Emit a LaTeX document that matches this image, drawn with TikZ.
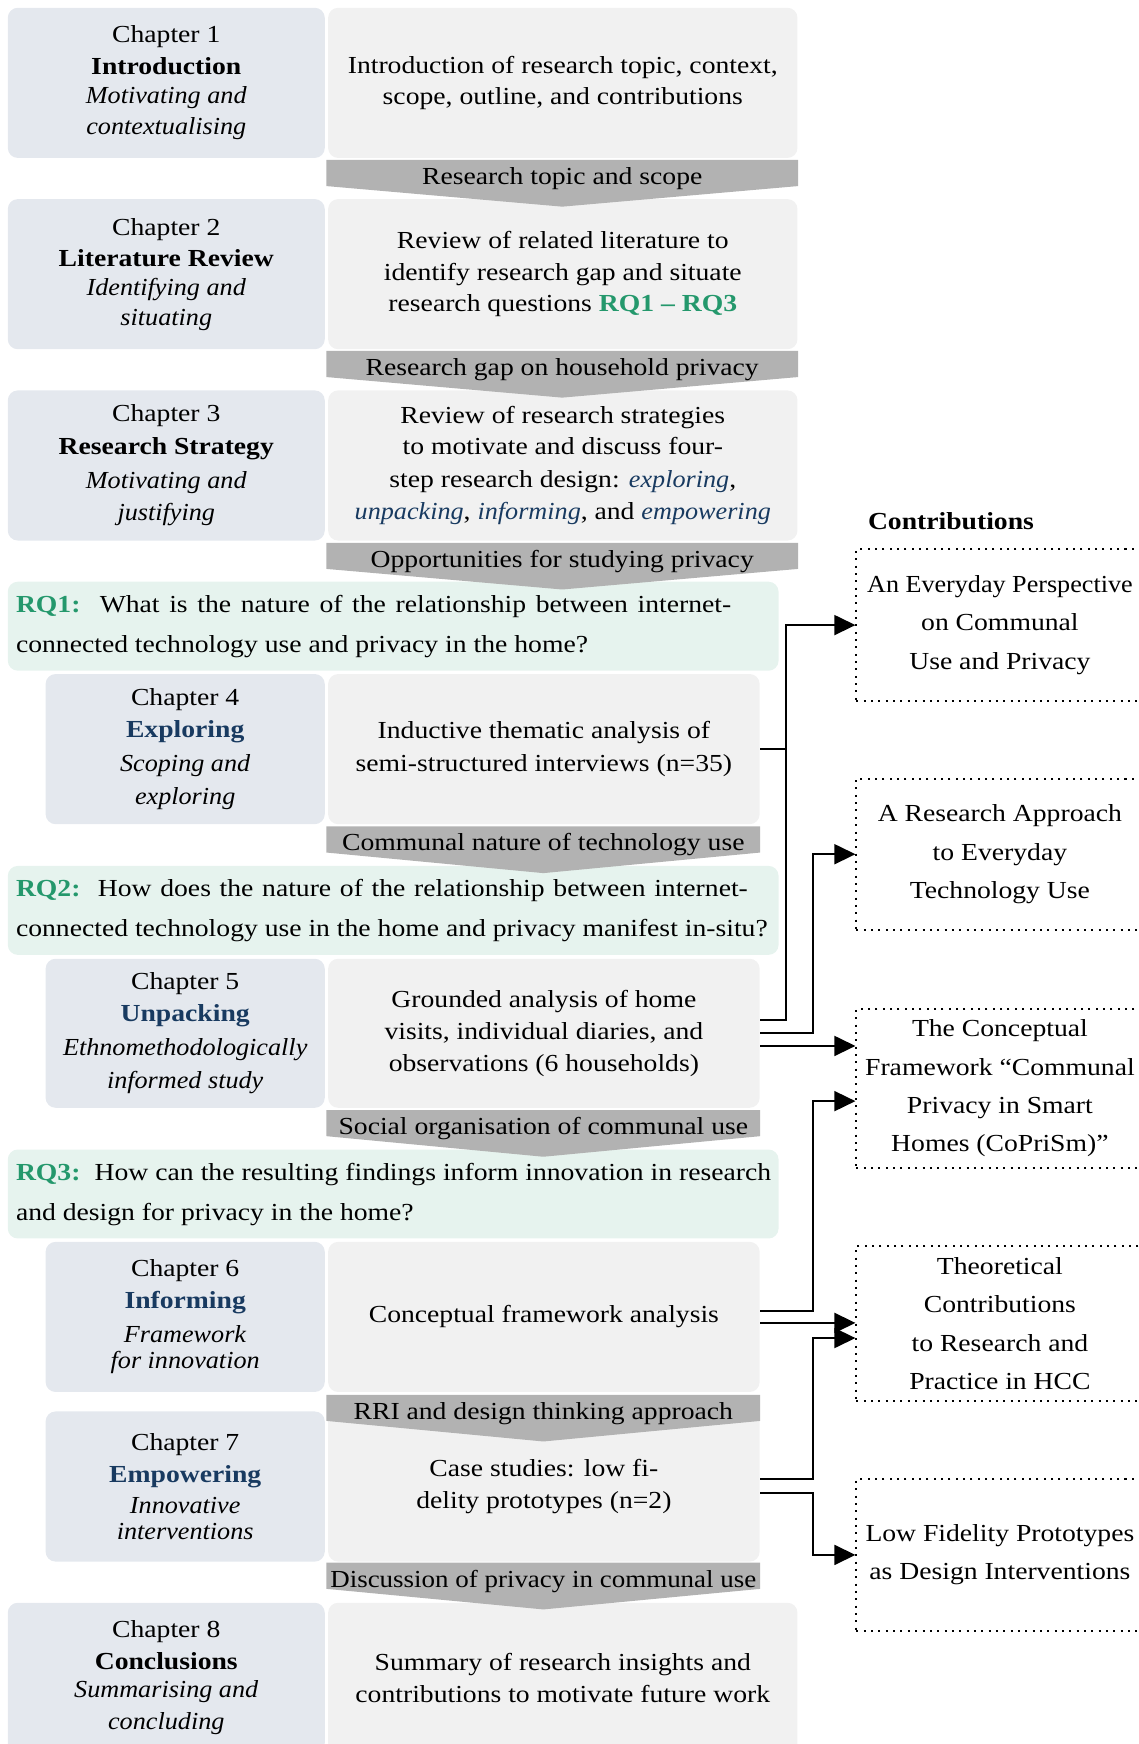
\documentclass[tikz,border=0pt]{standalone}
\usepackage{fontspec}
\setmainfont{Liberation Serif}[FakeStretch=1.13,
  ItalicFont={Liberation Serif Italic}, ItalicFeatures={FakeStretch=1.07}]
\usetikzlibrary{arrows.meta}

\definecolor{lboxfill}{RGB}{228,232,238}
\definecolor{rboxfill}{RGB}{241,241,241}
\definecolor{rqfill}{RGB}{230,243,238}
\definecolor{bannerfill}{RGB}{178,178,178}
\definecolor{rqgreen}{RGB}{36,152,108}
\definecolor{navy}{RGB}{24,58,96}

% grey chevron banner with its caption
\newcommand\banner[5]{%
  \fill[bannerfill] ({#2},{#4}) -- ({#3},{#4}) -- ({#3},{#4+23.5})
    -- ({(#2+#3)/2},{#4+42}) -- ({#2},{#4+23.5}) -- cycle;
  \node[anchor=base, inner sep=0pt] (#1) at ({(#2+#3)/2},{#4+22}) {#5};}

\newcommand\stage[1]{{\bfseries\color{navy}#1}}
\newcommand\step[1]{\textcolor{navy}{\textit{#1}}}
\newcommand\rqlabel[1]{\textcolor{rqgreen}{\textbf{#1}}}
% first line of a research question, spread to a given width
\newcommand\rqline[2]{\makebox[#1][s]{#2}}

\begin{document}
\begin{tikzpicture}[x=0.5pt,y=-0.5pt,
  font=\fontsize{11}{14}\selectfont,
  lbox/.style={fill=lboxfill, rounded corners=4.5pt, minimum width=142.5pt,
    minimum height=67.5pt, align=center, inner sep=0pt},
  lboxn/.style={lbox, minimum width=125.5pt},
  rbox/.style={fill=rboxfill, rounded corners=4.5pt, minimum width=211pt,
    minimum height=67.5pt, align=center, inner sep=0pt},
  rboxn/.style={rbox, minimum width=194pt},
  rqbox/.style={fill=rqfill, rounded corners=4.5pt, minimum width=346.5pt,
    minimum height=40pt, inner sep=0pt},
  rqtext/.style={align=left, inner sep=0pt, anchor=west,
    font=\fontsize{11}{17.5}\selectfont},
  contrib/.style={draw, line width=0.9pt, dash pattern=on 0.9pt off 2.4pt,
    minimum width=129pt, align=center, inner sep=0pt,
    font=\fontsize{11}{17.25}\selectfont},
  ln/.style={line width=0.9pt},
  arr/.style={line width=0.9pt, -{Triangle[length=9.5pt,width=9pt]}},
]
\useasboundingbox (0,0) rectangle (1024,1568);
\clip (0,0) rectangle (1024,1568);

% ---------- chapters ----------
\node[lbox] (c1l) at (149.5,74.5) {Chapter 1\\[0.5pt]\textbf{Introduction}\\[-1pt]\textit{Motivating and}\\\textit{contextualising}};
\node[rbox] (c1r) at (506,74.5) {Introduction of research topic, context,\\scope, outline, and contributions};

\node[lbox] (c2l) at (149.5,246.5) {Chapter 2\\\textbf{Literature Review}\\[-1pt]\textit{Identifying and}\\[-0.5pt]\textit{situating}};
\node[rbox] (c2r) at (506,246.5) {Review of related literature to\\[0.5pt]identify research gap and situate\\research questions \rqlabel{RQ1 -- RQ3}};

\node[lbox] (c3l) at (149.5,418.5) {Chapter 3\\[0.5pt]\textbf{Research Strategy}\\[1.5pt]\textit{Motivating and}\\[0.5pt]\textit{justifying}};
\node[rbox] (c3r) at (506,418.5) {Review of research strategies\\to motivate and discuss four-\\[0.5pt]step research design: \step{exploring},\\[0.5pt]\step{unpacking}, \step{informing}, and \step{empowering}};

\node[rqbox] (rq1) at (353.5,563) {};
\node[rqtext] (rq1t) at (14,563) {\rqline{321.5pt}{\rqlabel{RQ1:}\ \ What is the nature of the relationship between internet-}\\[0.5pt]connected technology use and privacy in the home?};

\node[lboxn] (c4l) at (166.5,673.5) {Chapter 4\\[0.5pt]\stage{Exploring}\\[1pt]\textit{Scoping and}\\[1pt]\textit{exploring}};
\node[rboxn] (c4r) at (489,673.5) {Inductive thematic analysis of\\[0.5pt]semi-structured interviews (n=35)};

\node[rqbox] (rq2) at (353.5,818.5) {};
\node[rqtext] (rq2t) at (14,818.5) {\rqline{329pt}{\rqlabel{RQ2:}\ \ How does the nature of the relationship between internet-}\\[0.5pt]connected technology use in the home and privacy manifest in-situ?};

\node[lboxn, minimum height=67pt] (c5l) at (166.5,929) {Chapter 5\\[0.5pt]\stage{Unpacking}\\[1pt]\textit{Ethnomethodologically}\\[1pt]\textit{informed study}};
\node[rboxn, minimum height=67pt] (c5r) at (489,929) {Grounded analysis of home\\[0.5pt]visits, individual diaries, and\\[0.5pt]observations (6 households)};

\node[rqbox] (rq3) at (353.5,1073.5) {};
\node[rqtext] (rq3t) at (14,1074) {\rqline{339.5pt}{\rqlabel{RQ3:}\ \ How can the resulting findings inform innovation in research}\\[0.5pt]and design for privacy in the home?};

\node[lboxn] (c6l) at (166.5,1184) {Chapter 6\\[0.5pt]\stage{Informing}\\[1pt]\textit{Framework}\\[-2pt]\textit{for innovation}};
\node[rboxn] (c6r) at (489,1184) {Conceptual framework analysis};

\node[lboxn] (c7l) at (166.5,1336.5) {Chapter 7\\[0.5pt]\stage{Empowering}\\\textit{Innovative}\\[-2.5pt]\textit{interventions}};
\node[rboxn] (c7r) at (489,1336.5) {Case studies: low fi-\\[0.5pt]delity prototypes (n=2)};

\node[lbox] (c8l) at (149.5,1508.5) {Chapter 8\\[0.5pt]\textbf{Conclusions}\\[-1.5pt]\textit{Summarising and}\\[0.5pt]\textit{concluding}};
\node[rbox] (c8r) at (506,1508.5) {Summary of research insights and\\[0.5pt]contributions to motivate future work};

% ---------- transitions between chapters ----------
\banner{b1}{293.5}{717.5}{143.8}{Research topic and scope}
\banner{b2}{293.5}{717.5}{315.5}{Research gap on household privacy}
\banner{b3}{293.5}{717.5}{488}{Opportunities for studying privacy}
\banner{b4}{293.5}{683.5}{743}{Communal nature of technology use}
\banner{b5}{293.5}{683.5}{998}{Social organisation of communal use}
\banner{b6}{293.5}{683.5}{1254}{RRI and design thinking approach}
\banner{b7}{293.5}{683.5}{1405}{\scalebox{0.975}[1]{Discussion of privacy in communal use}}

% ---------- contributions ----------
\node[anchor=west, inner sep=0pt] (ctitle) at (780,469) {\textbf{Contributions}};
\node[contrib, minimum height=68pt] (cb1) at (899,562) {\scalebox{0.945}[1]{An Everyday Perspective}\\on Communal\\Use and Privacy};
\node[contrib, minimum height=68pt] (cb2) at (899,768) {A Research Approach\\to Everyday\\Technology Use};
\node[contrib, minimum height=71.5pt] (cb3) at (899,978.5) {The Conceptual\\Framework “Communal\\Privacy in Smart\\Homes (CoPriSm)”};
\node[contrib, minimum height=70pt] (cb4) at (899,1190) {Theoretical\\Contributions\\to Research and\\Practice in HCC};
\node[contrib, minimum height=68pt] (cb5) at (899,1398) {Low Fidelity Prototypes\\as Design Interventions};

% ---------- connectors ----------
\coordinate (v1) at (707,0);
\coordinate (v2) at (731,0);
\coordinate (s4) at (c4r.east);
\coordinate (s5a) at ([yshift=6pt]c5r.east);
\coordinate (s5b) at ([yshift=0.3pt]c5r.east);
\coordinate (s5c) at ([yshift=-5.7pt]c5r.east);
\coordinate (s6a) at ([yshift=2.75pt]c6r.east);
\coordinate (s6b) at ([yshift=-2.7pt]c6r.east);
\coordinate (s7a) at ([yshift=3.25pt]c7r.east);
\coordinate (s7b) at ([yshift=-2.75pt]c7r.east);
\coordinate (t3b) at ([yshift=-5.75pt]cb3.west);
\coordinate (t4b) at ([yshift=-6.5pt]cb4.west);

\draw[arr] (s4) -- (s4 -| v1) |- (cb1.west);
\draw[ln] (s5a) -| (v1 |- s4);
\draw[arr] (s5b) -- (s5b -| v2) |- (cb2.west);
\draw[arr] (s5c) -- (s5c -| cb3.west);
\draw[arr] (s6a) -- (s6a -| v2) |- (t3b);
\draw[arr] (s6b) -- (s6b -| cb4.west);
\draw[arr] (s7a) -- (s7a -| v2) |- (t4b);
\draw[arr] (s7b) -- (s7b -| v2) |- (cb5.west);
\end{tikzpicture}
\end{document}
